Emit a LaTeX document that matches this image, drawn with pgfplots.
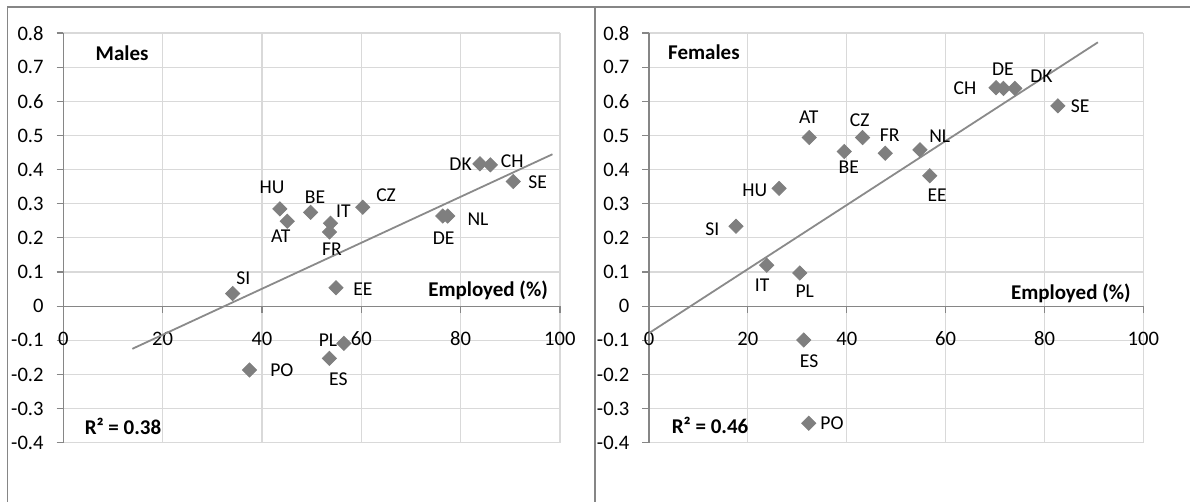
\documentclass[border=0pt]{standalone}
\usepackage{pgfplots}
\pgfplotsset{compat=1.18}
\usepackage{fontspec}
\setmainfont{Carlito}
\definecolor{mk}{HTML}{7F7F7F}
\definecolor{tl}{HTML}{8A8A8A}
\definecolor{gr}{HTML}{D9D9D9}
\definecolor{ax}{HTML}{868686}
\definecolor{fr}{HTML}{868686}
\newcommand\lbl{\fontsize{9.8}{11}\selectfont}
\newcommand\bld{\fontsize{10.5}{12}\selectfont\bfseries}
\pgfplotsset{
  panel/.style={
    scale only axis, width=248.3pt, height=204.8pt,
    xmin=0, xmax=100, ymin=-0.4, ymax=0.8,
    axis x line=middle, axis y line=left,
    axis line style={-, draw=ax, line width=0.6pt},
    hide obscured x ticks=false, hide obscured y ticks=false,
    xtick={0,20,40,60,80,100}, xticklabels={0,20,40,60,80,100},
    ytick={-0.4,-0.3,-0.2,-0.1,0,0.1,0.2,0.3,0.4,0.5,0.6,0.7,0.8},
    yticklabels={-0.4,-0.3,-0.2,-0.1,0,0.1,0.2,0.3,0.4,0.5,0.6,0.7,0.8},
    grid=major, major grid style={draw=gr, line width=0.6pt},
    tick align=outside, major tick length=3.3pt,
    tick style={draw=ax, line width=0.6pt},
    ticklabel style={font=\fontsize{10.3}{12}\selectfont},
    xticklabel style={yshift=-6pt},
    yticklabel style={xshift=-3pt},
    clip=false,
  },
  pts/.style={only marks, mark=square*, mark size=2.5pt,
    mark options={rotate=45, fill=mk, draw=mk}},
}
\pgfplotstableread{
x y
34.1 0.037
37.5 -0.187
43.6 0.285
45.1 0.249
49.8 0.275
53.8 0.243
53.6 0.217
54.9 0.054
53.6 -0.153
56.5 -0.109
60.3 0.290
76.4 0.264
77.4 0.264
83.9 0.417
86.0 0.414
90.6 0.365
}\males
\pgfplotstableread{
x y
17.6 0.234
23.8 0.120
26.3 0.345
30.5 0.097
31.3 -0.099
32.3 -0.343
32.4 0.494
39.5 0.453
43.2 0.494
47.8 0.448
54.8 0.458
56.8 0.382
70.2 0.640
71.7 0.638
74.0 0.638
82.7 0.587
}\females
\begin{document}
\begin{tikzpicture}
\useasboundingbox (0,0) rectangle (595pt,251pt);
% Males
\begin{axis}[panel, at={(31.65pt,29.65pt)}, anchor=south west]
\addplot[tl, line width=0.9pt] coordinates {(13.9,-0.125) (98.5,0.445)};
\addplot[pts] table[x=x,y=y] {\males};
\node[anchor=base west, font=\bld] at (axis cs:5.1,0.72) {Males};
\node[anchor=base west, font=\bld] at (axis cs:2.9,-0.377) {R² = 0.38};
\node[anchor=base east, font=\bld] at (axis cs:99.0,0.028) {Employed (\%)};
\begin{scope}[every node/.style={font=\lbl, inner sep=0pt}]
\node at (axis cs:42.05,0.347) {HU};
\node at (axis cs:50.7,0.319) {BE};
\node at (axis cs:56.4,0.278) {IT};
\node at (axis cs:65.0,0.325) {CZ};
\node at (axis cs:43.8,0.206) {AT};
\node at (axis cs:54.1,0.167) {FR};
\node at (axis cs:36.25,0.082) {SI};
\node at (axis cs:60.35,0.050) {EE};
\node at (axis cs:53.3,-0.100) {PL};
\node at (axis cs:44.0,-0.188) {PO};
\node at (axis cs:55.4,-0.215) {ES};
\node at (axis cs:80.0,0.415) {DK};
\node at (axis cs:90.4,0.425) {CH};
\node at (axis cs:95.5,0.364) {SE};
\node at (axis cs:83.5,0.254) {NL};
\node at (axis cs:76.6,0.200) {DE};
\end{scope}
\end{axis}
% Females
\begin{axis}[panel, width=247.2pt, at={(324.5pt,29.65pt)}, anchor=south west]
\addplot[tl, line width=0.9pt] coordinates {(0,-0.079) (90.8,0.773)};
\addplot[pts] table[x=x,y=y] {\females};
\node[anchor=base west, font=\bld] at (axis cs:2.45,0.723) {Females};
\node[anchor=base west, font=\bld] at (axis cs:3.2,-0.372) {R² = 0.46};
\node[anchor=base east, font=\bld] at (axis cs:98.85,0.02) {Employed (\%)};
\begin{scope}[every node/.style={font=\lbl, inner sep=0pt}]
\node at (axis cs:32.3,0.554) {AT};
\node at (axis cs:42.6,0.544) {CZ};
\node at (axis cs:48.7,0.502) {FR};
\node at (axis cs:58.8,0.497) {NL};
\node at (axis cs:40.4,0.406) {BE};
\node at (axis cs:58.3,0.325) {EE};
\node at (axis cs:21.4,0.338) {HU};
\node at (axis cs:12.8,0.226) {SI};
\node at (axis cs:22.9,0.062) {IT};
\node at (axis cs:31.5,0.043) {PL};
\node at (axis cs:63.9,0.639) {CH};
\node at (axis cs:71.6,0.695) {DE};
\node at (axis cs:79.4,0.675) {DK};
\node at (axis cs:87.2,0.585) {SE};
\node at (axis cs:32.4,-0.162) {ES};
\node at (axis cs:37.0,-0.344) {PO};
\end{scope}
\end{axis}
% outer frames
\draw[fr, line width=0.8pt] (3.65pt,0) -- (3.65pt,247.35pt) -- (297.5pt,247.35pt);
\draw[fr, line width=0.8pt] (297.5pt,0) -- (297.5pt,247.35pt) -- (595pt,247.35pt);
\end{tikzpicture}
\end{document}
